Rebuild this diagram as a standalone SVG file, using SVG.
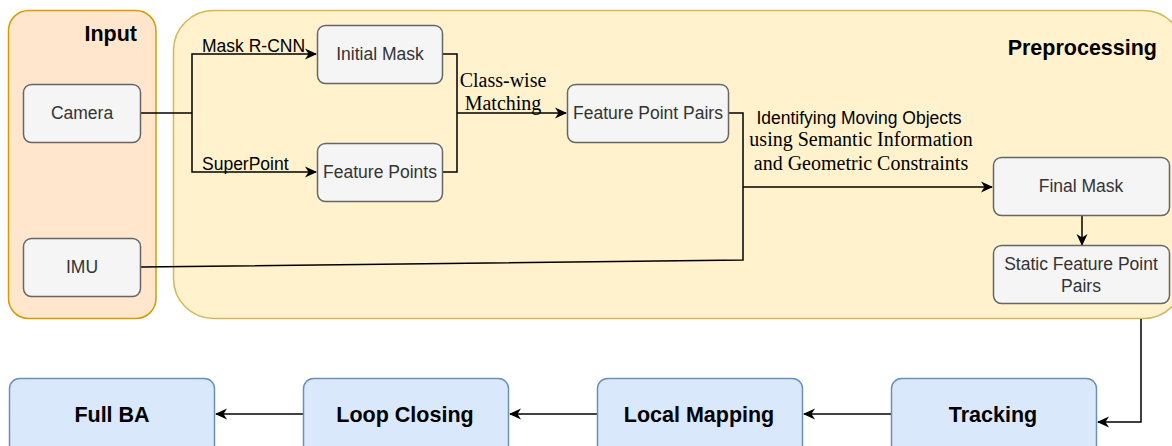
<svg xmlns="http://www.w3.org/2000/svg" width="1172" height="446" viewBox="0 0 1172 446">
<style>
.node rect{fill:#f5f5f5;stroke:#666666;stroke-width:1.5}
.node text{font-family:"Liberation Sans",Arial,sans-serif;font-size:17.5px;fill:#333333;text-anchor:middle;dominant-baseline:central}
.blue rect{fill:#dae8fc;stroke:#6c8ebf;stroke-width:1.5}
.blue text{font-family:"Liberation Sans",Arial,sans-serif;font-size:21.5px;font-weight:bold;fill:#000;text-anchor:middle;dominant-baseline:central}
.title{font-family:"Liberation Sans",Arial,sans-serif;font-size:21.5px;font-weight:bold;fill:#000;text-anchor:end}
.edge{fill:none;stroke:#000;stroke-width:1.5}
.lbl{font-family:"Liberation Sans",Arial,sans-serif;font-size:17.5px;fill:#000}
.serif{font-family:"Liberation Serif","Times New Roman",serif;font-size:20px;fill:#000;text-anchor:middle}
</style>
<defs>
<marker id="arr" viewBox="0 0 12 12" refX="11" refY="6" markerWidth="12" markerHeight="12" markerUnits="userSpaceOnUse" orient="auto">
<path d="M0,0.5 L12,6 L0,11.5 L3.5,6 Z" fill="#000"/>
</marker>
</defs>
<rect width="1172" height="446" fill="#ffffff"/>
<g id="input-container">
<rect x="8.5" y="10.5" width="147.5" height="308" rx="20" fill="#ffe6cc" stroke="#d79b00" stroke-width="1.5"/>
<text class="title" x="137" y="41">Input</text>
</g>
<g id="preprocessing-container">
<rect x="173.5" y="10.5" width="1010" height="308" rx="40" fill="#fff2cc" stroke="#d6b656" stroke-width="1.5"/>
<text class="title" x="1157" y="55">Preprocessing</text>
</g>
<g id="connectors">
<path class="edge" d="M141,113 L192,113"/>
<path class="edge" d="M192,113 L192,54 L316,54" marker-end="url(#arr)"/>
<path class="edge" d="M192,113 L192,172 L316,172" marker-end="url(#arr)"/>
<path class="edge" d="M443,54 L457,54 L457,172 L443,172"/>
<path class="edge" d="M457,113 L566,113" marker-end="url(#arr)"/>
<path class="edge" d="M729,113 L743,113 L743,260 L141,267"/>
<path class="edge" d="M743,187 L992,187" marker-end="url(#arr)"/>
<path class="edge" d="M1082,216 L1082,245" marker-end="url(#arr)"/>
<path class="edge" d="M1141,319 L1141,422 L1098,422" marker-end="url(#arr)"/>
<path class="edge" d="M891,414 L804,414" marker-end="url(#arr)"/>
<path class="edge" d="M597,414 L510,414" marker-end="url(#arr)"/>
<path class="edge" d="M303,414 L216,414" marker-end="url(#arr)"/>
<text class="lbl" x="202" y="52">Mask R-CNN</text>
<text class="lbl" x="202" y="170">SuperPoint</text>
<text class="serif" x="503" y="87">Class-wise</text>
<text class="serif" x="503" y="110">Matching</text>
<text class="lbl" x="859" y="124" text-anchor="middle">Identifying Moving Objects</text>
<text class="serif" x="861" y="146">using Semantic Information</text>
<text class="serif" x="861" y="170">and Geometric Constraints</text>
</g>
<g id="camera" class="node"><rect x="23.5" y="84.5" width="117" height="58" rx="8"/><text x="82" y="113">Camera</text></g>
<g id="imu" class="node"><rect x="23.5" y="238.5" width="117" height="58" rx="8"/><text x="82" y="267">IMU</text></g>
<g id="initial-mask" class="node"><rect x="317.5" y="25.5" width="125" height="58" rx="8"/><text x="380" y="54">Initial Mask</text></g>
<g id="feature-points" class="node"><rect x="317.5" y="143.5" width="125" height="58" rx="8"/><text x="380" y="172">Feature Points</text></g>
<g id="feature-point-pairs" class="node"><rect x="567.5" y="84.5" width="161" height="58" rx="8"/><text x="648" y="113">Feature Point Pairs</text></g>
<g id="final-mask" class="node"><rect x="993.5" y="157.5" width="176" height="58" rx="8"/><text x="1081" y="186">Final Mask</text></g>
<g id="static-feature-point-pairs" class="node"><rect x="993.5" y="245.5" width="176" height="58" rx="8"/><text x="1081" y="264">Static Feature Point</text><text x="1081" y="286">Pairs</text></g>
<g id="full-ba" class="blue"><rect x="9.5" y="378.5" width="205" height="80" rx="10"/><text x="112" y="415">Full BA</text></g>
<g id="loop-closing" class="blue"><rect x="303.5" y="378.5" width="205" height="80" rx="10"/><text x="405" y="415">Loop Closing</text></g>
<g id="local-mapping" class="blue"><rect x="597.5" y="378.5" width="205" height="80" rx="10"/><text x="699" y="415">Local Mapping</text></g>
<g id="tracking" class="blue"><rect x="891.5" y="378.5" width="205" height="80" rx="10"/><text x="993" y="415">Tracking</text></g>
</svg>
